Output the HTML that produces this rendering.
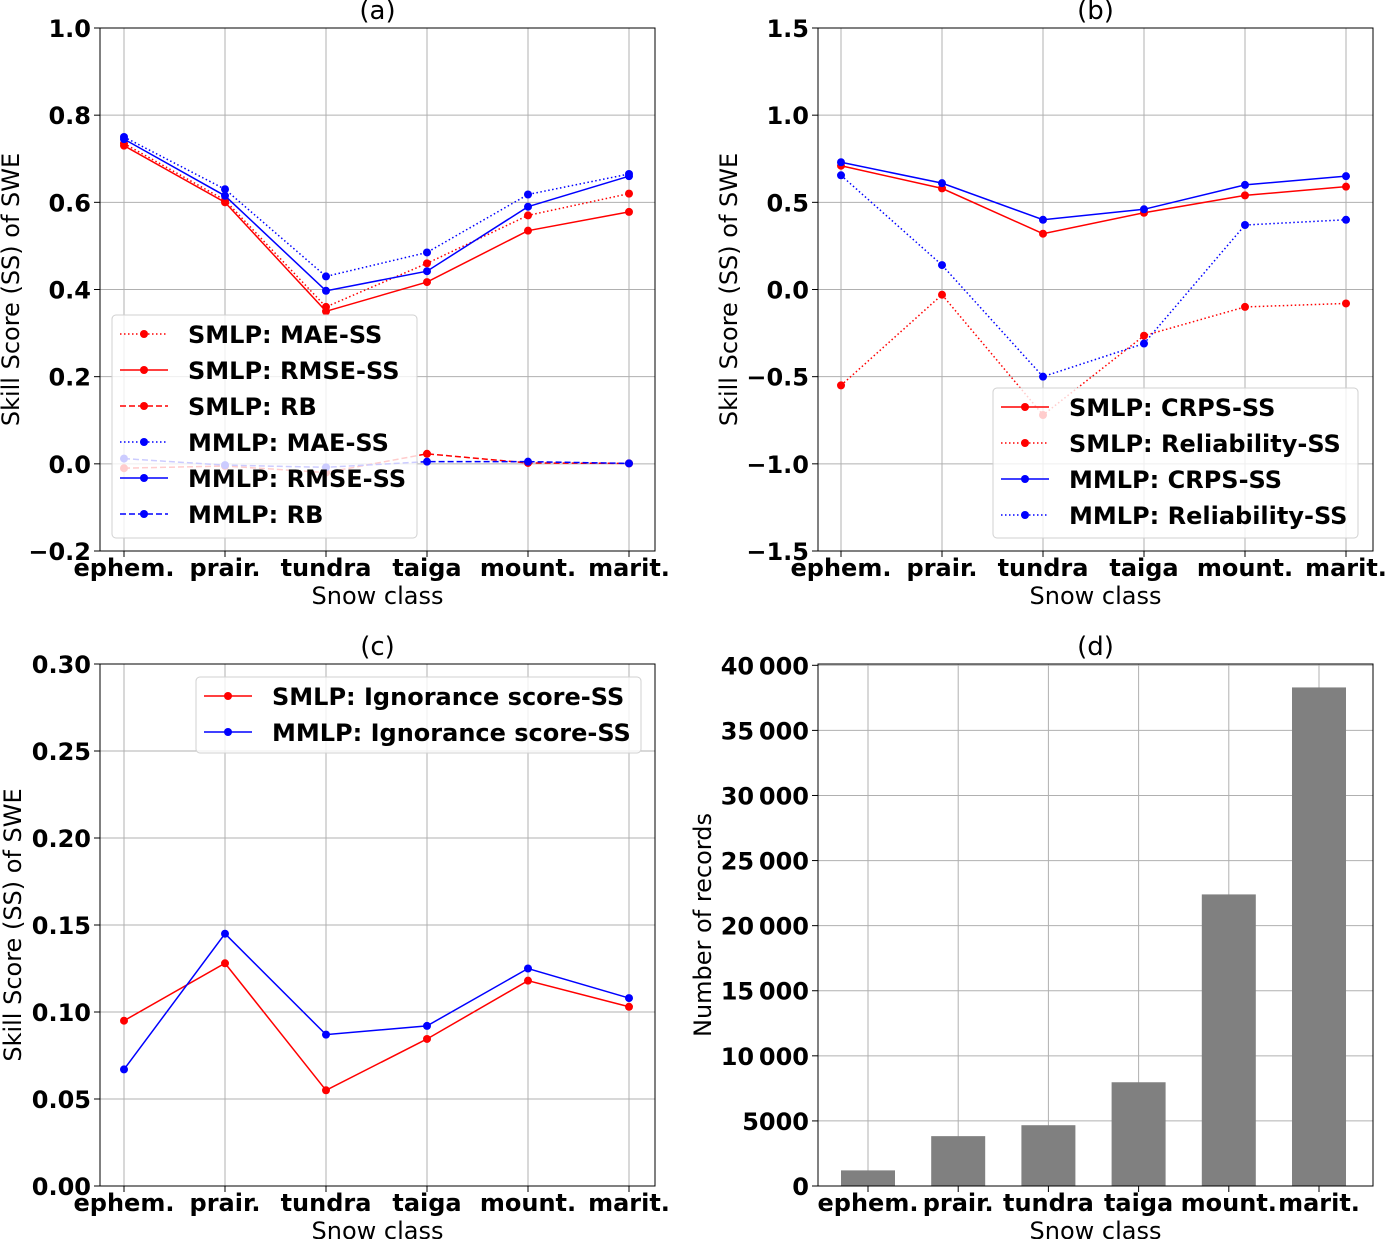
<!DOCTYPE html>
<html><head><meta charset="utf-8">
<style>
body{margin:0;background:#fff}
svg{display:block;font-family:"DejaVu Sans","Liberation Sans",sans-serif}
.tk{font-weight:bold;font-size:24px}
.lab{font-size:24px}
.leg{font-weight:bold;font-size:24px}
</style></head>
<body>
<svg id="fig" width="1385" height="1239" viewBox="0 0 1385 1239" xmlns="http://www.w3.org/2000/svg"></svg>
<script>
// ---- data ----
const classes = ["ephem.","prair.","tundra","taiga","mount.","marit."];
// panel (a)
const smlpMAE  = [0.735,0.605,0.36,0.46,0.57,0.62];
const smlpRMSE = [0.73,0.60,0.35,0.417,0.535,0.578];
const smlpRB   = [-0.01,-0.005,-0.02,0.023,0.002,0.001];
const mmlpMAE  = [0.75,0.63,0.43,0.485,0.618,0.665];
const mmlpRMSE = [0.745,0.615,0.397,0.442,0.59,0.66];
const mmlpRB   = [0.012,-0.003,-0.008,0.005,0.005,0.001];
const ticksA = [-0.2,0,0.2,0.4,0.6,0.8,1.0];
const tickLabelsA = ["\u22120.2","0.0","0.2","0.4","0.6","0.8","1.0"];
// panel (b)
const smlpCRPS = [0.71,0.58,0.32,0.44,0.54,0.59];
const smlpRel  = [-0.55,-0.03,-0.72,-0.265,-0.10,-0.08];
const mmlpCRPS = [0.73,0.61,0.40,0.46,0.60,0.65];
const mmlpRel  = [0.655,0.14,-0.50,-0.31,0.37,0.40];
const ticksB = [-1.5,-1.0,-0.5,0,0.5,1.0,1.5];
const tickLabelsB = ["\u22121.5","\u22121.0","\u22120.5","0.0","0.5","1.0","1.5"];
// panel (c)
const smlpIGN = [0.095,0.128,0.055,0.0845,0.118,0.103];
const mmlpIGN = [0.067,0.145,0.087,0.092,0.125,0.108];
const ticksC = [0,0.05,0.10,0.15,0.20,0.25,0.30];
const tickLabelsC = ["0.00","0.05","0.10","0.15","0.20","0.25","0.30"];
// panel (d)
const records = [1200,3830,4670,7970,22400,38300];
const ticksD = [0,5000,10000,15000,20000,25000,30000,35000,40000];
const tickLabelsD = ["0","5000","10\u2009000","15\u2009000","20\u2009000","25\u2009000","30\u2009000","35\u2009000","40\u2009000"];

const NS="http://www.w3.org/2000/svg";
const fig=document.getElementById('fig');
function mk(tag,attrs,parent){const e=document.createElementNS(NS,tag);for(const k in attrs)e.setAttribute(k,attrs[k]);(parent||fig).appendChild(e);return e;}
function txt(s,attrs,parent){const e=mk('text',attrs,parent);e.textContent=s;return e;}

function panel(opt){
  const g=mk('g',{});
  
  
  const {x0,x1,y0,y1}=opt;
  const sx=i=>opt.xa+(i-opt.xi0)*opt.xs;
  const sy=v=>y1-(v-opt.ymin)/(opt.ymax-opt.ymin)*(y1-y0);
  classes.forEach((c,i)=>{
    const l=mk('line',{x1:sx(i),x2:sx(i),y1:y0,y2:y1,stroke:'#b0b0b0','stroke-width':1},g);
    
    
  });
  opt.ticks.forEach((t,k)=>{
    const y=sy(t);
    const l=mk('line',{x1:x0,x2:x1,y1:y,y2:y,stroke:'#b0b0b0','stroke-width':1},g);
    
    
    const tm=mk('line',{x1:x0-6,x2:x0,y1:y,y2:y,stroke:'#000','stroke-width':1},g);
    
    
    const tl=txt(opt.tickLabels[k],{x:x0-9,y:y+9,'text-anchor':'end',class:'tk'},g);
    
    
  });
  classes.forEach((c,i)=>{
    const tm=mk('line',{x1:sx(i),x2:sx(i),y1:y1,y2:y1+6,stroke:'#000','stroke-width':1},g);
    
    
    const tl=txt(c,{x:sx(i),y:y1+25,'text-anchor':'middle',class:'tk'},g);
    
    
  });
  if(opt.bars){
    opt.bars.forEach((v,i)=>{
      const r=mk('rect',{x:sx(i)-27,y:sy(v),width:54,height:y1-sy(v),fill:'#808080'},g);
      
      
    });
  }
  (opt.series||[]).forEach(s=>{
    const sg=mk('g',{},g);
    
    
    const pts=s.data.map((v,i)=>sx(i)+','+sy(v)).join(' ');
    mk('polyline',{points:pts,fill:'none',stroke:s.color,'stroke-width':1.5,'stroke-dasharray':s.dash||'none'},sg);
    s.data.forEach((v,i)=>{
      const c=mk('circle',{cx:sx(i),cy:sy(v),r:4,fill:s.color},sg);
      
      
    });
  });
  const fr=mk('rect',{x:x0,y:y0,width:x1-x0,height:y1-y0,fill:'none',stroke:'#000','stroke-width':1},g);
  
  
  const t=txt(opt.title,{x:(x0+x1)/2,y:y0-9,'text-anchor':'middle',class:'lab',style:'font-size:26px'},g);
  
  
  const xl=txt('Snow class',{x:(x0+x1)/2,y:y1+53,'text-anchor':'middle',class:'lab'},g);
  
  
  const yl=txt(opt.ylabel,{x:0,y:0,'text-anchor':'middle',class:'lab',transform:`translate(${opt.ylx},${(y0+y1)/2}) rotate(-90)`},g);
  
  
  if(opt.legend){
    const L=opt.legend;
    const lg=mk('g',{},g);
    
    
    mk('rect',{x:L.x,y:L.y,width:L.w,height:L.h,rx:4,fill:'#fff','fill-opacity':0.8,stroke:'#d0d0d0'},lg);
    opt.series.forEach((s,k)=>{
      const yy=L.y+19+k*36;
      const e=mk('g',{},lg);
      
      
      mk('line',{x1:L.x+8,x2:L.x+56,y1:yy,y2:yy,stroke:s.color,'stroke-width':1.5,'stroke-dasharray':s.dash||'none'},e);
      mk('circle',{cx:L.x+32,cy:yy,r:4,fill:s.color},e);
      txt(s.label,{x:L.x+76,y:yy+9,class:'leg'},e);
    });
  }
}

panel({name:'panel-a',x0:100,x1:655,y0:28,y1:551,xa:124,xi0:0,xs:101,ymin:-0.2,ymax:1.0,
  ticks:ticksA,tickLabels:tickLabelsA,title:'(a)',ylabel:'Skill Score (SS) of SWE',ylx:19,
  series:[
    {name:'smlp-mae-ss',label:'SMLP: MAE-SS',data:smlpMAE,color:'#ff0000',dash:'1.5 2.5'},
    {name:'smlp-rmse-ss',label:'SMLP: RMSE-SS',data:smlpRMSE,color:'#ff0000'},
    {name:'smlp-rb',label:'SMLP: RB',data:smlpRB,color:'#ff0000',dash:'6 3'},
    {name:'mmlp-mae-ss',label:'MMLP: MAE-SS',data:mmlpMAE,color:'#0000ff',dash:'1.5 2.5'},
    {name:'mmlp-rmse-ss',label:'MMLP: RMSE-SS',data:mmlpRMSE,color:'#0000ff'},
    {name:'mmlp-rb',label:'MMLP: RB',data:mmlpRB,color:'#0000ff',dash:'6 3'}],
  legend:{x:112,y:315,w:305,h:223}});

panel({name:'panel-b',x0:818,x1:1373,y0:28,y1:551,xa:841,xi0:0,xs:101,ymin:-1.5,ymax:1.5,
  ticks:ticksB,tickLabels:tickLabelsB,title:'(b)',ylabel:'Skill Score (SS) of SWE',ylx:737,
  series:[
    {name:'smlp-crps-ss',label:'SMLP: CRPS-SS',data:smlpCRPS,color:'#ff0000'},
    {name:'smlp-reliability-ss',label:'SMLP: Reliability-SS',data:smlpRel,color:'#ff0000',dash:'1.5 2.5'},
    {name:'mmlp-crps-ss',label:'MMLP: CRPS-SS',data:mmlpCRPS,color:'#0000ff'},
    {name:'mmlp-reliability-ss',label:'MMLP: Reliability-SS',data:mmlpRel,color:'#0000ff',dash:'1.5 2.5'}],
  legend:{x:993,y:388,w:365,h:150}});

panel({name:'panel-c',x0:100,x1:655,y0:664,y1:1186,xa:124,xi0:0,xs:101,ymin:0,ymax:0.30,
  ticks:ticksC,tickLabels:tickLabelsC,title:'(c)',ylabel:'Skill Score (SS) of SWE',ylx:21,
  series:[
    {name:'smlp-ignorance-ss',label:'SMLP: Ignorance score-SS',data:smlpIGN,color:'#ff0000'},
    {name:'mmlp-ignorance-ss',label:'MMLP: Ignorance score-SS',data:mmlpIGN,color:'#0000ff'}],
  legend:{x:196,y:677,w:445,h:76}});

panel({name:'panel-d',x0:818,x1:1373,y0:664,y1:1186,xa:868,xi0:0,xs:90.2,ymin:0,ymax:40100,
  ticks:ticksD,tickLabels:tickLabelsD,title:'(d)',ylabel:'Number of records',ylx:711,
  bars:records});
</script>
</body></html>
